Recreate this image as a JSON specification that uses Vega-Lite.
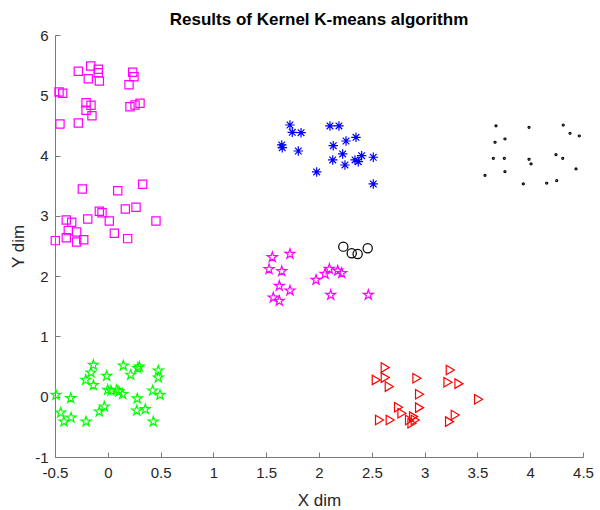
{
  "$schema": "https://vega.github.io/schema/vega-lite/v6.json",
  "width": 528,
  "height": 422,
  "autosize": {"type": "none"},
  "padding": {"left": 55, "top": 35, "right": 17, "bottom": 53},
  "background": "white",
  "title": {
    "text": "Results of Kernel K-means algorithm",
    "font": "Liberation Sans",
    "fontSize": 17,
    "fontWeight": "bold",
    "color": "#000000",
    "anchor": "middle",
    "offset": -1
  },
  "config": {
    "view": {"stroke": null},
    "axis": {
      "grid": false,
      "domainColor": "#7a7a7a",
      "domainWidth": 1,
      "tickColor": "#7a7a7a",
      "tickWidth": 1,
      "tickSize": -5,
      "labelFont": "Liberation Sans",
      "labelFontSize": 15,
      "labelColor": "#262626",
      "titleFont": "Liberation Sans",
      "titleFontSize": 17,
      "titleFontWeight": "normal",
      "titleColor": "#262626",
      "labelFlush": false,
      "labelOverlap": false
    }
  },
  "data": {
    "values": [
      {"cluster": "c1", "x": -0.279, "y": 5.398},
      {"cluster": "c1", "x": -0.162, "y": 5.486},
      {"cluster": "c1", "x": -0.090, "y": 5.431},
      {"cluster": "c1", "x": -0.090, "y": 5.375},
      {"cluster": "c1", "x": -0.185, "y": 5.275},
      {"cluster": "c1", "x": -0.080, "y": 5.237},
      {"cluster": "c1", "x": 0.236, "y": 5.381},
      {"cluster": "c1", "x": 0.248, "y": 5.308},
      {"cluster": "c1", "x": 0.201, "y": 5.176},
      {"cluster": "c1", "x": -0.462, "y": 5.055},
      {"cluster": "c1", "x": -0.427, "y": 5.033},
      {"cluster": "c1", "x": -0.206, "y": 4.877},
      {"cluster": "c1", "x": -0.159, "y": 4.834},
      {"cluster": "c1", "x": -0.206, "y": 4.751},
      {"cluster": "c1", "x": -0.150, "y": 4.662},
      {"cluster": "c1", "x": -0.279, "y": 4.541},
      {"cluster": "c1", "x": -0.453, "y": 4.524},
      {"cluster": "c1", "x": 0.210, "y": 4.811},
      {"cluster": "c1", "x": 0.258, "y": 4.839},
      {"cluster": "c1", "x": 0.305, "y": 4.867},
      {"cluster": "c1", "x": -0.241, "y": 3.446},
      {"cluster": "c1", "x": 0.094, "y": 3.418},
      {"cluster": "c1", "x": 0.330, "y": 3.524},
      {"cluster": "c1", "x": -0.080, "y": 3.076},
      {"cluster": "c1", "x": -0.055, "y": 3.053},
      {"cluster": "c1", "x": -0.190, "y": 2.949},
      {"cluster": "c1", "x": -0.393, "y": 2.932},
      {"cluster": "c1", "x": -0.342, "y": 2.894},
      {"cluster": "c1", "x": 0.014, "y": 2.915},
      {"cluster": "c1", "x": 0.166, "y": 3.114},
      {"cluster": "c1", "x": 0.267, "y": 3.143},
      {"cluster": "c1", "x": 0.456, "y": 2.915},
      {"cluster": "c1", "x": -0.374, "y": 2.755},
      {"cluster": "c1", "x": -0.295, "y": 2.733},
      {"cluster": "c1", "x": 0.062, "y": 2.711},
      {"cluster": "c1", "x": -0.393, "y": 2.638},
      {"cluster": "c1", "x": -0.295, "y": 2.567},
      {"cluster": "c1", "x": -0.228, "y": 2.605},
      {"cluster": "c1", "x": 0.188, "y": 2.622},
      {"cluster": "c1", "x": -0.497, "y": 2.589},

      {"cluster": "c2", "x": -0.137, "y": 0.527},
      {"cluster": "c2", "x": -0.159, "y": 0.400},
      {"cluster": "c2", "x": -0.209, "y": 0.279},
      {"cluster": "c2", "x": -0.137, "y": 0.191},
      {"cluster": "c2", "x": -0.010, "y": 0.345},
      {"cluster": "c2", "x": 0.147, "y": 0.516},
      {"cluster": "c2", "x": 0.217, "y": 0.362},
      {"cluster": "c2", "x": 0.283, "y": 0.473},
      {"cluster": "c2", "x": 0.298, "y": 0.499},
      {"cluster": "c2", "x": 0.478, "y": 0.433},
      {"cluster": "c2", "x": 0.478, "y": 0.317},
      {"cluster": "c2", "x": -0.491, "y": 0.030},
      {"cluster": "c2", "x": -0.351, "y": -0.025},
      {"cluster": "c2", "x": -0.001, "y": 0.113},
      {"cluster": "c2", "x": 0.030, "y": 0.101},
      {"cluster": "c2", "x": 0.084, "y": 0.113},
      {"cluster": "c2", "x": 0.106, "y": 0.085},
      {"cluster": "c2", "x": 0.141, "y": 0.041},
      {"cluster": "c2", "x": 0.425, "y": 0.101},
      {"cluster": "c2", "x": 0.494, "y": 0.030},
      {"cluster": "c2", "x": 0.279, "y": -0.031},
      {"cluster": "c2", "x": -0.446, "y": -0.264},
      {"cluster": "c2", "x": -0.348, "y": -0.347},
      {"cluster": "c2", "x": -0.415, "y": -0.413},
      {"cluster": "c2", "x": -0.206, "y": -0.413},
      {"cluster": "c2", "x": -0.080, "y": -0.247},
      {"cluster": "c2", "x": -0.033, "y": -0.164},
      {"cluster": "c2", "x": 0.274, "y": -0.231},
      {"cluster": "c2", "x": 0.355, "y": -0.207},
      {"cluster": "c2", "x": 0.431, "y": -0.413},

      {"cluster": "c3", "x": 1.725, "y": 4.507},
      {"cluster": "c3", "x": 1.747, "y": 4.386},
      {"cluster": "c3", "x": 1.830, "y": 4.380},
      {"cluster": "c3", "x": 1.647, "y": 4.176},
      {"cluster": "c3", "x": 1.652, "y": 4.131},
      {"cluster": "c3", "x": 1.804, "y": 4.076},
      {"cluster": "c3", "x": 2.104, "y": 4.491},
      {"cluster": "c3", "x": 2.189, "y": 4.491},
      {"cluster": "c3", "x": 2.256, "y": 4.242},
      {"cluster": "c3", "x": 2.350, "y": 4.303},
      {"cluster": "c3", "x": 2.135, "y": 4.164},
      {"cluster": "c3", "x": 2.224, "y": 4.027},
      {"cluster": "c3", "x": 2.130, "y": 3.927},
      {"cluster": "c3", "x": 2.246, "y": 3.844},
      {"cluster": "c3", "x": 2.341, "y": 3.927},
      {"cluster": "c3", "x": 2.372, "y": 3.899},
      {"cluster": "c3", "x": 2.404, "y": 3.998},
      {"cluster": "c3", "x": 2.514, "y": 3.972},
      {"cluster": "c3", "x": 1.978, "y": 3.728},
      {"cluster": "c3", "x": 2.514, "y": 3.529},

      {"cluster": "c4", "x": 3.676, "y": 4.491},
      {"cluster": "c4", "x": 3.989, "y": 4.469},
      {"cluster": "c4", "x": 4.313, "y": 4.507},
      {"cluster": "c4", "x": 4.377, "y": 4.370},
      {"cluster": "c4", "x": 4.465, "y": 4.325},
      {"cluster": "c4", "x": 3.667, "y": 4.221},
      {"cluster": "c4", "x": 3.761, "y": 4.275},
      {"cluster": "c4", "x": 3.651, "y": 3.955},
      {"cluster": "c4", "x": 3.755, "y": 3.955},
      {"cluster": "c4", "x": 3.989, "y": 3.939},
      {"cluster": "c4", "x": 4.008, "y": 3.861},
      {"cluster": "c4", "x": 4.244, "y": 4.015},
      {"cluster": "c4", "x": 4.308, "y": 3.955},
      {"cluster": "c4", "x": 4.434, "y": 3.778},
      {"cluster": "c4", "x": 3.761, "y": 3.733},
      {"cluster": "c4", "x": 3.572, "y": 3.673},
      {"cluster": "c4", "x": 3.935, "y": 3.529},
      {"cluster": "c4", "x": 4.156, "y": 3.541},
      {"cluster": "c4", "x": 4.251, "y": 3.584},

      {"cluster": "c5", "x": 1.558, "y": 2.313},
      {"cluster": "c5", "x": 1.725, "y": 2.368},
      {"cluster": "c5", "x": 1.527, "y": 2.114},
      {"cluster": "c5", "x": 1.647, "y": 2.081},
      {"cluster": "c5", "x": 1.624, "y": 1.838},
      {"cluster": "c5", "x": 1.725, "y": 1.760},
      {"cluster": "c5", "x": 1.567, "y": 1.644},
      {"cluster": "c5", "x": 1.624, "y": 1.589},
      {"cluster": "c5", "x": 1.972, "y": 1.937},
      {"cluster": "c5", "x": 2.057, "y": 2.037},
      {"cluster": "c5", "x": 2.098, "y": 2.119},
      {"cluster": "c5", "x": 2.177, "y": 2.091},
      {"cluster": "c5", "x": 2.215, "y": 2.048},
      {"cluster": "c5", "x": 2.111, "y": 1.688},
      {"cluster": "c5", "x": 2.467, "y": 1.688},

      {"cluster": "c6", "x": 2.230, "y": 2.489},
      {"cluster": "c6", "x": 2.310, "y": 2.380},
      {"cluster": "c6", "x": 2.366, "y": 2.368},
      {"cluster": "c6", "x": 2.461, "y": 2.463},

      {"cluster": "c7", "x": 2.625, "y": 0.483},
      {"cluster": "c7", "x": 2.540, "y": 0.279},
      {"cluster": "c7", "x": 2.625, "y": 0.317},
      {"cluster": "c7", "x": 2.663, "y": 0.168},
      {"cluster": "c7", "x": 2.925, "y": 0.307},
      {"cluster": "c7", "x": 2.950, "y": 0.041},
      {"cluster": "c7", "x": 3.241, "y": 0.444},
      {"cluster": "c7", "x": 3.219, "y": 0.240},
      {"cluster": "c7", "x": 3.323, "y": 0.217},
      {"cluster": "c7", "x": 3.509, "y": -0.041},
      {"cluster": "c7", "x": 2.751, "y": -0.174},
      {"cluster": "c7", "x": 2.783, "y": -0.274},
      {"cluster": "c7", "x": 2.950, "y": -0.181},
      {"cluster": "c7", "x": 2.893, "y": -0.330},
      {"cluster": "c7", "x": 2.571, "y": -0.385},
      {"cluster": "c7", "x": 2.672, "y": -0.385},
      {"cluster": "c7", "x": 2.855, "y": -0.385},
      {"cluster": "c7", "x": 2.878, "y": -0.439},
      {"cluster": "c7", "x": 2.909, "y": -0.385},
      {"cluster": "c7", "x": 3.288, "y": -0.302},
      {"cluster": "c7", "x": 3.234, "y": -0.413}
    ]
  },
  "mark": {"type": "point", "filled": false, "strokeWidth": 1.2, "opacity": 1},
  "encoding": {
    "x": {
      "field": "x",
      "type": "quantitative",
      "scale": {"domain": [-0.5, 4.5], "nice": false, "zero": false},
      "axis": {
        "title": "X dim",
        "values": [-0.5, 0, 0.5, 1, 1.5, 2, 2.5, 3, 3.5, 4, 4.5],
        "labelExpr": "toString(datum.value)",
        "labelPadding": 13,
        "titleY": 48,
        "titleBaseline": "alphabetic"
      }
    },
    "y": {
      "field": "y",
      "type": "quantitative",
      "scale": {"domain": [-1, 6], "nice": false, "zero": false},
      "axis": {
        "title": "Y dim",
        "values": [-1, 0, 1, 2, 3, 4, 5, 6],
        "labelExpr": "toString(datum.value)",
        "labelPadding": 12,
        "titleX": -28
      }
    },
    "color": {
      "field": "cluster",
      "type": "nominal",
      "scale": {
        "domain": ["c1", "c2", "c3", "c4", "c5", "c6", "c7"],
        "range": ["#ff00ff", "#00ff00", "#0000ff", "#000000", "#ff00ff", "#000000", "#ff0000"]
      },
      "legend": null
    },
    "shape": {
      "field": "cluster",
      "type": "nominal",
      "scale": {
        "domain": ["c1", "c2", "c3", "c4", "c5", "c6", "c7"],
        "range": [
          "square",
          "M0,-1L0.225,-0.309L0.951,-0.309L0.363,0.118L0.588,0.809L0,0.382L-0.588,0.809L-0.363,0.118L-0.951,-0.309L-0.225,-0.309Z",
          "M-1,0L1,0M0,-1L0,1M-0.7,-0.7L0.7,0.7M-0.7,0.7L0.7,-0.7",
          "circle",
          "M0,-1L0.225,-0.309L0.951,-0.309L0.363,0.118L0.588,0.809L0,0.382L-0.588,0.809L-0.363,0.118L-0.951,-0.309L-0.225,-0.309Z",
          "circle",
          "M-0.8,-1L0.9,0L-0.8,1Z"
        ]
      },
      "legend": null
    },
    "size": {
      "field": "cluster",
      "type": "nominal",
      "scale": {
        "type": "ordinal",
        "domain": ["c1", "c2", "c3", "c4", "c5", "c6", "c7"],
        "range": [68, 110, 90, 4, 110, 85, 90]
      },
      "legend": null
    }
  }
}
